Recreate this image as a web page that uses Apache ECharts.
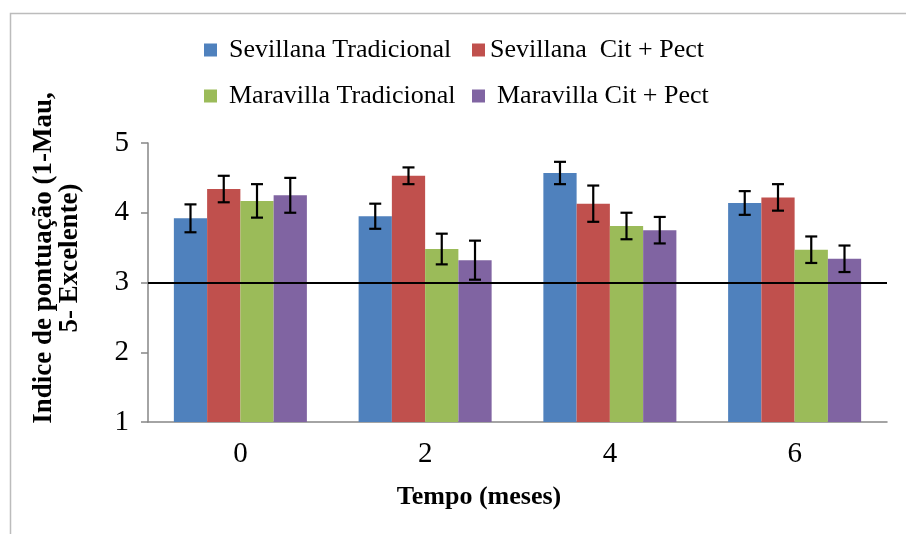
<!DOCTYPE html>
<html>
<head>
<meta charset="utf-8">
<script src="https://cdn.jsdelivr.net/npm/echarts@6/dist/echarts.min.js"></script>
<style>html,body{margin:0;padding:0;background:#fff}#c{width:906px;height:534px}</style>
</head>
<body>
<div id="c"></div>
<script>
const categories = ['0', '2', '4', '6'];
const seriesNames = ['Sevillana Tradicional', 'Sevillana  Cit + Pect', 'Maravilla Tradicional', 'Maravilla Cit + Pect'];
const sevTrad = [3.92, 3.95, 4.57, 4.14];
const sevCit = [4.34, 4.53, 4.13, 4.22];
const marTrad = [4.17, 3.48, 3.81, 3.47];
const marCit = [4.25, 3.32, 3.75, 3.34];
const sevTradErr = [0.20, 0.18, 0.16, 0.17];
const sevCitErr = [0.19, 0.12, 0.26, 0.19];
const marTradErr = [0.24, 0.22, 0.19, 0.19];
const marCitErr = [0.25, 0.28, 0.19, 0.19];
const yTicks = [1, 2, 3, 4, 5];
const refValue = 3;

const colors = ['#4F81BD', '#C0504D', '#9BBB59', '#8064A2'];
const values = [sevTrad, sevCit, marTrad, marCit];
const errs = [sevTradErr, sevCitErr, marTradErr, marCitErr];
const FONT = '"Liberation Serif", "Times New Roman", serif';
const GAP = 0.28;

const chart = echarts.init(document.getElementById('c'), null, {renderer: 'canvas'});

function legendAt(name, left, top, extraPad) {
  return {
    data: [name], left: left, top: top, padding: 0, itemWidth: 13, itemHeight: 13,
    icon: 'rect', selectedMode: false,
    textStyle: {fontFamily: FONT, fontSize: 26, color: '#000', lineHeight: 28, padding: [0, 0, 0, extraPad]}
  };
}

const series = [];
values.forEach((vals, k) => {
  const s = {
    name: seriesNames[k], type: 'bar', data: vals, barGap: '0%', barCategoryGap: (GAP * 100) + '%',
    itemStyle: {color: colors[k]}, z: 2
  };
  if (k === 3) {
    s.markLine = {
      silent: true, symbol: 'none', z: 5,
      data: [{yAxis: refValue}],
      lineStyle: {color: '#000', width: 2, type: 'solid'},
      label: {show: false}
    };
  }
  series.push(s);
});
values.forEach((vals, k) => {
  series.push({
    name: 'err' + k, type: 'custom', z: 6,
    data: vals.map((v, i) => [i, v, errs[k][i]]),
    renderItem: function (params, api) {
      const i = api.value(0), v = api.value(1), e = api.value(2);
      const c = api.coord([i, v]);
      const bw = api.size([1, 0])[0];
      const barW = bw * (1 - GAP) / 4;
      const cx = c[0] + (k - 1.5) * barW;
      const hi = api.coord([i, v + e])[1];
      const lo = api.coord([i, v - e])[1];
      const cap = 6;
      const st = {stroke: '#000', lineWidth: 2.2};
      return {type: 'group', children: [
        {type: 'line', shape: {x1: cx, y1: hi, x2: cx, y2: lo}, style: st},
        {type: 'line', shape: {x1: cx - cap, y1: hi, x2: cx + cap, y2: hi}, style: st},
        {type: 'line', shape: {x1: cx - cap, y1: lo, x2: cx + cap, y2: lo}, style: st}
      ]};
    }
  });
});

chart.setOption({
  animation: false,
  backgroundColor: '#fff',
  color: colors,
  grid: {left: 148, right: 19, top: 143, bottom: 112},
  legend: [
    legendAt(seriesNames[0], 204, 36, 7),
    legendAt(seriesNames[1], 472, 36, 0),
    legendAt(seriesNames[2], 204, 82, 7),
    legendAt(seriesNames[3], 472, 82, 7)
  ],
  xAxis: {
    type: 'category', data: categories,
    axisLine: {lineStyle: {color: '#868686', width: 1.5}},
    axisTick: {show: false},
    axisLabel: {fontFamily: FONT, fontSize: 29, color: '#000', margin: 18},
    splitLine: {show: false}
  },
  yAxis: {
    type: 'value', min: yTicks[0], max: yTicks[yTicks.length - 1], interval: 1,
    axisLine: {show: true, lineStyle: {color: '#868686', width: 1.5}},
    axisTick: {show: true, length: 7, lineStyle: {color: '#868686', width: 1.5}},
    axisLabel: {fontFamily: FONT, fontSize: 29, color: '#000', margin: 19},
    splitLine: {show: false}
  },
  graphic: [
    {type: 'rect', left: 8, top: 11, shape: {width: 1000, height: 1000}, style: {fill: 'none', stroke: '#bcbcbc', lineWidth: 1.5}, z: -1, silent: true},
    {type: 'text', x: 479, y: 497, style: {text: 'Tempo (meses)', fontFamily: FONT, fontSize: 26, fontWeight: 'bold', fill: '#000', align: 'center', verticalAlign: 'middle'}},
    {type: 'text', x: 57, y: 258, rotation: Math.PI / 2, style: {text: 'Indice de pontuação (1-Mau,\n5- Excelente)', fontFamily: FONT, fontSize: 27, fontWeight: 'bold', fill: '#000', align: 'center', verticalAlign: 'middle', lineHeight: 26}}
  ],
  series: series
});
</script>
</body>
</html>
